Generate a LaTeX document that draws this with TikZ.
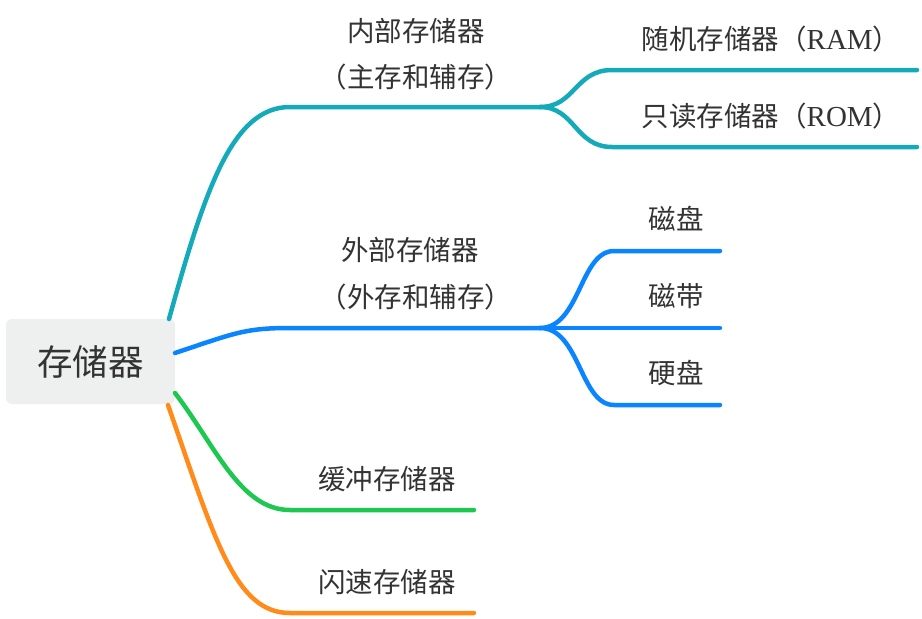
\documentclass[tikz,border=0pt]{standalone}
\usepackage{fontspec}
\setmainfont{Noto Sans CJK SC}
\newfontfamily\latinserif{Liberation Serif}
\definecolor{txt}{RGB}{51,51,51}
\definecolor{rootfill}{RGB}{238,240,239}
\definecolor{cteal}{RGB}{20,170,185}
\definecolor{cblue}{RGB}{10,132,255}
\definecolor{cgreen}{RGB}{30,200,80}
\definecolor{corange}{RGB}{255,140,26}
\begin{document}
\begin{tikzpicture}[x=1pt,y=-1pt,
  lbl/.style={text=txt,font=\fontsize{27.5}{30}\selectfont,inner sep=0pt,anchor=center},
  branch/.style={line width=4.5pt,line cap=round},
  rootbox/.style={fill=rootfill,rounded corners=6pt,minimum width=169pt,minimum height=85pt,text=txt,font=\fontsize{35.5}{38}\selectfont,inner sep=0pt}]
\useasboundingbox (0,0) rectangle (922,619);
\fill[white] (0,0) rectangle (922,619);

% root
\node[rootbox] (root) at (90.5,361.5) {存储器};

% coordinates
\coordinate (tA) at (169,319);
\coordinate (t1) at (290,107);
\coordinate (tJ) at (540,107);
\coordinate (tU) at (612,70);
\coordinate (tUe) at (917,70);
\coordinate (tL) at (612,147);
\coordinate (tLe) at (917,147);

\coordinate (bA) at (175,353);
\coordinate (b1) at (290,328);
\coordinate (bJ) at (540,328);
\coordinate (bU) at (614,251);
\coordinate (bUe) at (720,251);
\coordinate (bMe) at (720,328);
\coordinate (bL) at (614,405);
\coordinate (bLe) at (720,405);

\coordinate (gA) at (175,393);
\coordinate (g1) at (290,510);
\coordinate (gE) at (474,510);

\coordinate (oA) at (168,405);
\coordinate (o1) at (290,613);
\coordinate (oE) at (474,613);

% teal branch
\draw[branch,cteal] (tA) .. controls (205,190) and (232,107) .. (t1) -- (tJ);
\draw[branch,cteal] (tJ) .. controls (575,107) and (575,70) .. (tU) -- (tUe);
\draw[branch,cteal] (tJ) .. controls (575,107) and (575,147) .. (tL) -- (tLe);

% blue branch
\draw[branch,cblue] (bA) .. controls (235,333) and (245,328) .. (b1) -- (bJ);
\draw[branch,cblue] (bJ) .. controls (580,328) and (580,251) .. (bU) -- (bUe);
\draw[branch,cblue] (bJ) -- (bMe);
\draw[branch,cblue] (bJ) .. controls (580,328) and (580,405) .. (bL) -- (bLe);

% green branch
\draw[branch,cgreen] (gA) .. controls (215,445) and (240,510) .. (g1) -- (gE);

% orange branch
\draw[branch,corange] (oA) .. controls (215,540) and (235,613) .. (o1) -- (oE);

% labels
\node[lbl] (n1) at (416,31) {内部存储器};
\node[lbl] (n1b) at (416,77) {（主存和辅存）};
\node[lbl] (n11) at (771,39) {随机存储器（{\latinserif\fontsize{29}{30}\selectfont RAM}）};
\node[lbl] (n12) at (771,116) {只读存储器（{\latinserif\fontsize{29}{30}\selectfont ROM}）};

\node[lbl] (n2) at (410,250) {外部存储器};
\node[lbl] (n2b) at (416,297) {（外存和辅存）};
\node[lbl] (n21) at (676,219) {磁盘};
\node[lbl] (n22) at (676,296) {磁带};
\node[lbl] (n23) at (676,373) {硬盘};

\node[lbl] (n3) at (387,479) {缓冲存储器};
\node[lbl] (n4) at (387,582) {闪速存储器};
\end{tikzpicture}
\end{document}
